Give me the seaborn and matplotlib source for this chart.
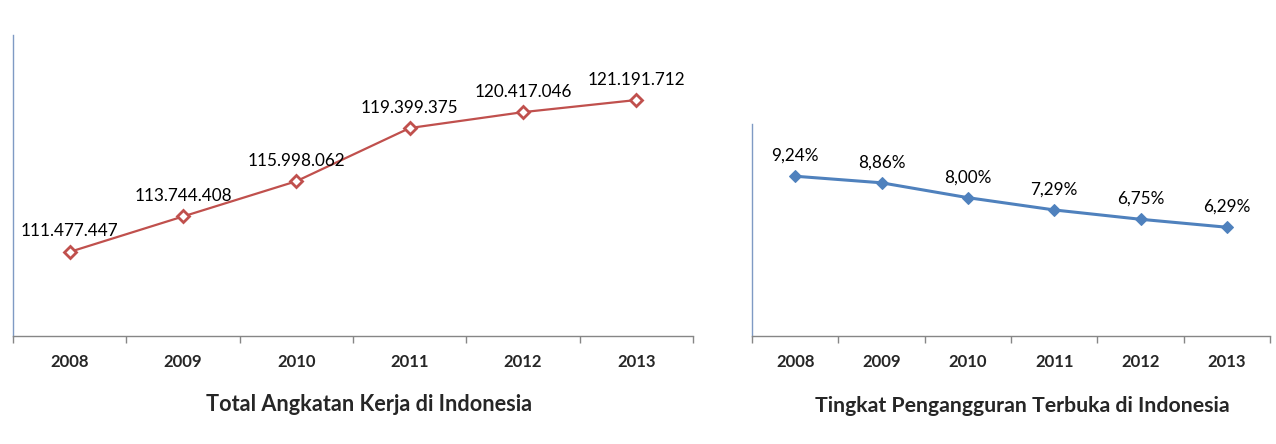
import matplotlib
matplotlib.use("Agg")
import matplotlib.pyplot as plt
import seaborn as sns
import pandas as pd
from matplotlib.ticker import FixedLocator

years = ["2008", "2009", "2010", "2011", "2012", "2013"]
angkatan_kerja = [111477447, 113744408, 115998062, 119399375, 120417046, 121191712]
angkatan_labels = ["111.477.447", "113.744.408", "115.998.062", "119.399.375", "120.417.046", "121.191.712"]
pengangguran = [9.24, 8.86, 8.00, 7.29, 6.75, 6.29]
pengangguran_labels = ["9,24%", "8,86%", "8,00%", "7,29%", "6,75%", "6,29%"]
title_left = "Total Angkatan Kerja di Indonesia"
title_right = "Tingkat Pengangguran Terbuka di Indonesia"

sns.set_theme(style="white")
plt.rcParams["font.family"] = ["Lato", "DejaVu Sans"]

fig = plt.figure(figsize=(12.76, 4.44), dpi=100)
ax1 = fig.add_axes([13/1276, 108/444, 680/1276, 301/444])
ax2 = fig.add_axes([752/1276, 108/444, 518/1276, 212/444])

red = "#C0504D"
blue = "#4F81BD"

df1 = pd.DataFrame({"pos": range(len(years)), "val": angkatan_kerja})
df2 = pd.DataFrame({"pos": range(len(years)), "val": pengangguran})

sns.lineplot(data=df1, x="pos", y="val", ax=ax1, color=red, linewidth=1.6,
             marker="D", markersize=6.5, markerfacecolor="white",
             markeredgecolor=red, markeredgewidth=2)
sns.lineplot(data=df2, x="pos", y="val", ax=ax2, color=blue, linewidth=2.2,
             marker="D", markersize=6, markerfacecolor=blue,
             markeredgecolor=blue)

for i, (v, lab) in enumerate(zip(angkatan_kerja, angkatan_labels)):
    ax1.annotate(lab, (i, v), xytext=(0, 9), textcoords="offset points",
                 ha="center", va="bottom", fontsize=12.3, color="black")
for i, (v, lab) in enumerate(zip(pengangguran, pengangguran_labels)):
    ax2.annotate(lab, (i, v), xytext=(0, 9), textcoords="offset points",
                 ha="center", va="bottom", fontsize=12.3, color="black")

ax1.set_ylim(106.1e6, 125.35e6)
ax2.set_ylim(0, 12.26)

for ax, spine_col in ((ax1, "#7F9AC4"), (ax2, "#7F9AC4")):
    ax.set_xlim(-0.5, len(years) - 0.5)
    ax.set_xticks(range(len(years)))
    ax.set_xticklabels(years, fontweight="bold", fontsize=12)
    ax.xaxis.set_minor_locator(FixedLocator([i - 0.5 for i in range(len(years) + 1)]))
    ax.tick_params(axis="x", which="major", length=0, pad=13)
    ax.tick_params(axis="x", which="minor", length=5, width=1, color="#868686", direction="out", bottom=True)
    ax.set_yticks([])
    ax.set_xlabel("")
    ax.set_ylabel("")
    for s in ("top", "right"):
        ax.spines[s].set_visible(False)
    ax.spines["left"].set_color(spine_col)
    ax.spines["left"].set_linewidth(1)
    ax.spines["bottom"].set_color("#868686")
    ax.spines["bottom"].set_linewidth(1)

fig.text(369/1276, 1 - 404/444, title_left, ha="center", va="center",
         fontsize=15.6, fontweight="bold")
fig.text(1022/1276, 1 - 406/444, title_right, ha="center", va="center",
         fontsize=15.3, fontweight="bold")

fig.savefig("out.png", dpi=100, facecolor="white")
